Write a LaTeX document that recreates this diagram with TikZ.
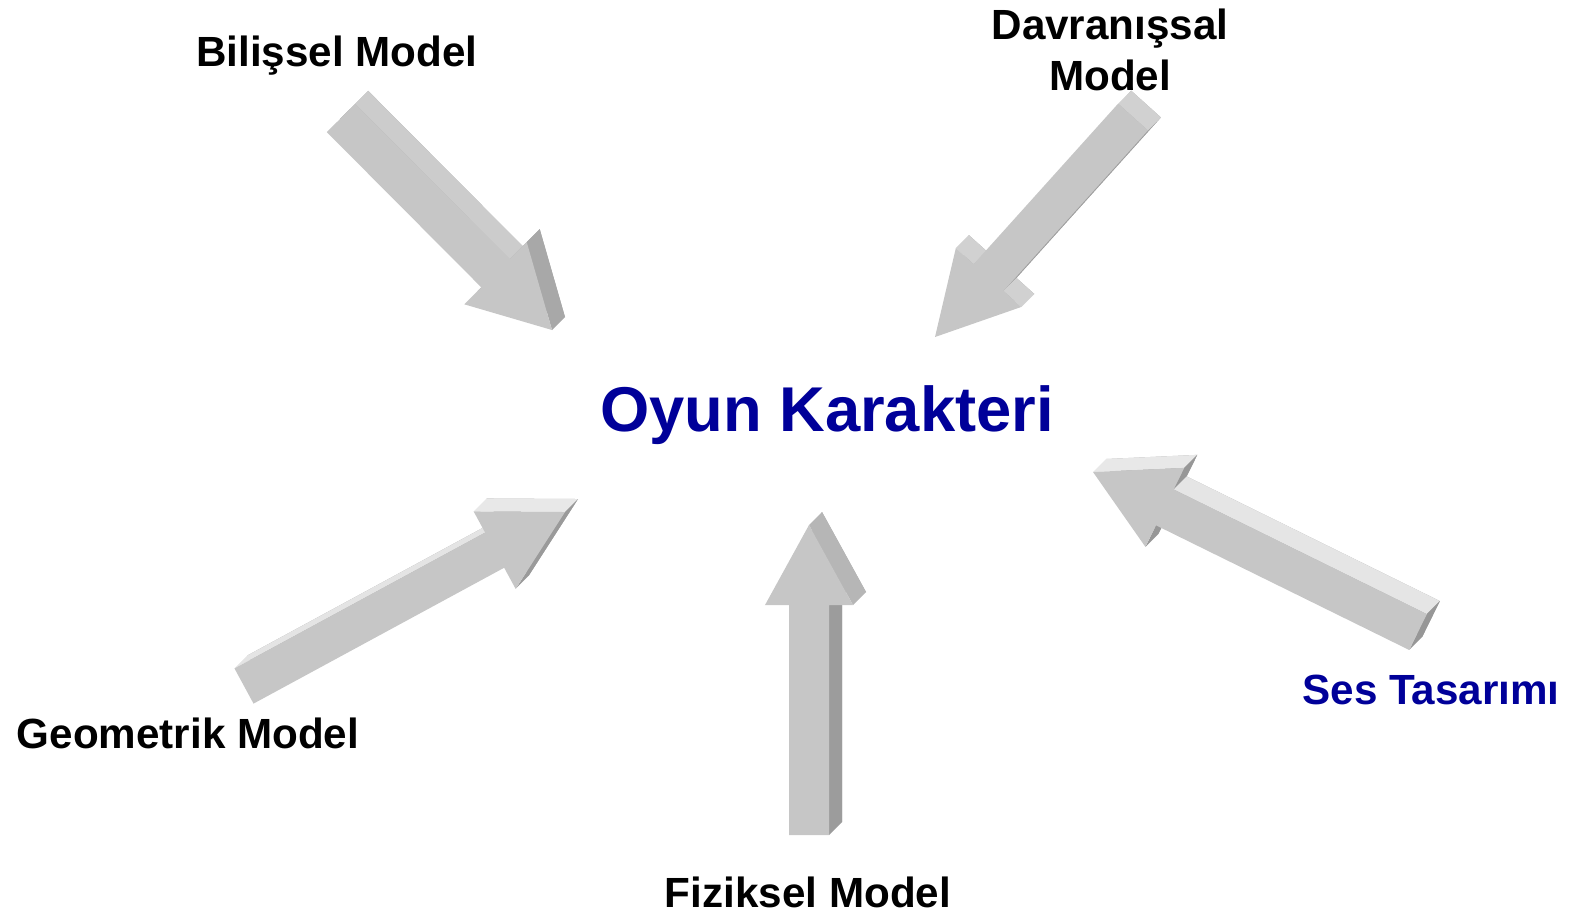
\documentclass[tikz,border=0pt]{standalone}
\usepackage{fontspec}
\setmainfont{Liberation Sans}
\usetikzlibrary{calc}

\definecolor{arrowgray}{RGB}{198,198,198}
\definecolor{titleblue}{RGB}{0,0,153}

% 3D block arrow from #1 (tail) to #2 (tip), extruded up-right
\newcommand{\blockarrow}[2]{%
  \coordinate (tp) at (#2);
  \coordinate (ta) at ($(#1)!0.2cm!90:(#2)$);
  \coordinate (tb) at ($(#1)!0.2cm!-90:(#2)$);
  \coordinate (hc) at ($(#2)!0.8cm!(#1)$);
  \coordinate (sa) at ($(hc)!0.2cm!90:(#2)$);
  \coordinate (sb) at ($(hc)!0.2cm!-90:(#2)$);
  \coordinate (ha) at ($(hc)!0.44cm!90:(#2)$);
  \coordinate (hb) at ($(hc)!0.44cm!-90:(#2)$);
  \fill[arrowgray!85!black] ([shift={(13,-13)}]ta) -- ([shift={(13,-13)}]sa) -- ([shift={(13,-13)}]ha)
    -- ([shift={(13,-13)}]tp) -- ([shift={(13,-13)}]hb) -- ([shift={(13,-13)}]sb) -- ([shift={(13,-13)}]tb) -- cycle;
  \foreach \ea/\eb in {ta/sa,sa/ha,ha/tp,tp/hb,hb/sb,sb/tb,tb/ta}{
    \path let \p1=(\ea), \p2=(\eb) in \pgfextra{%
      \pgfmathsetmacro\facenx{-(\y2-\y1)/veclen(\x2-\x1,\y2-\y1)}%
      \pgfmathsetmacro\faceny{(\x2-\x1)/veclen(\x2-\x1,\y2-\y1)}%
      \pgfmathsetmacro\facelit{79+12*\faceny-36*max(0,\facenx-0.5)}%
      \pgfmathsetmacro\facevis{(\facenx+\faceny)>0.05}%
      \xdef\facelit{\facelit}\xdef\facevis{\facevis}};
    \fill[white!\facelit!black, fill opacity=\facevis] (\ea) -- (\eb)
      -- ([shift={(13,-13)}]\eb) -- ([shift={(13,-13)}]\ea) -- cycle;
  }
  \fill[arrowgray] (ta) -- (sa) -- (ha) -- (tp) -- (hb) -- (sb) -- (tb) -- cycle;
}

\begin{document}
\begin{tikzpicture}[x=0.01cm, y=-0.01cm,
    lbl/.style={font=\bfseries\fontsize{12}{14.5}\selectfont, text=black, align=center},
    title/.style={font=\bfseries\fontsize{18}{22}\selectfont, text=titleblue}
    ]
    \useasboundingbox (0,0) rectangle (1570,914);

    % arrows
    \coordinate (bil-tail) at (341,118);
    \coordinate (bil-head) at (552,330);
    \coordinate (dav-tail) at (1133,117);
    \coordinate (dav-head) at (935,337);
    \coordinate (geo-tail) at (244,686);
    \coordinate (geo-head) at (565,512);
    \coordinate (fiz-tail) at (809,835);
    \coordinate (fiz-head) at (809,525);
    \coordinate (ses-tail) at (1418,632);
    \coordinate (ses-head) at (1093,472);
    \blockarrow{bil-tail}{bil-head}
    \blockarrow{dav-tail}{dav-head}
    \blockarrow{geo-tail}{geo-head}
    \blockarrow{fiz-tail}{fiz-head}
    \blockarrow{ses-tail}{ses-head}

    % labels
    \node (oyun) [title] at (827,415) {Oyun Karakteri};
    \node (bil) [lbl] at (337,56) {Bilişsel Model};
    \node (dav) [lbl] at (1110,50) {Davranışsal\\Model};
    \node (geo) [lbl] at (188,733) {Geometrik Model};
    \node (fiz) [lbl] at (808,892) {Fiziksel Model};
    \node (ses) [lbl, text=titleblue] at (1431,690) {Ses Tasarımı};
\end{tikzpicture}
\end{document}
